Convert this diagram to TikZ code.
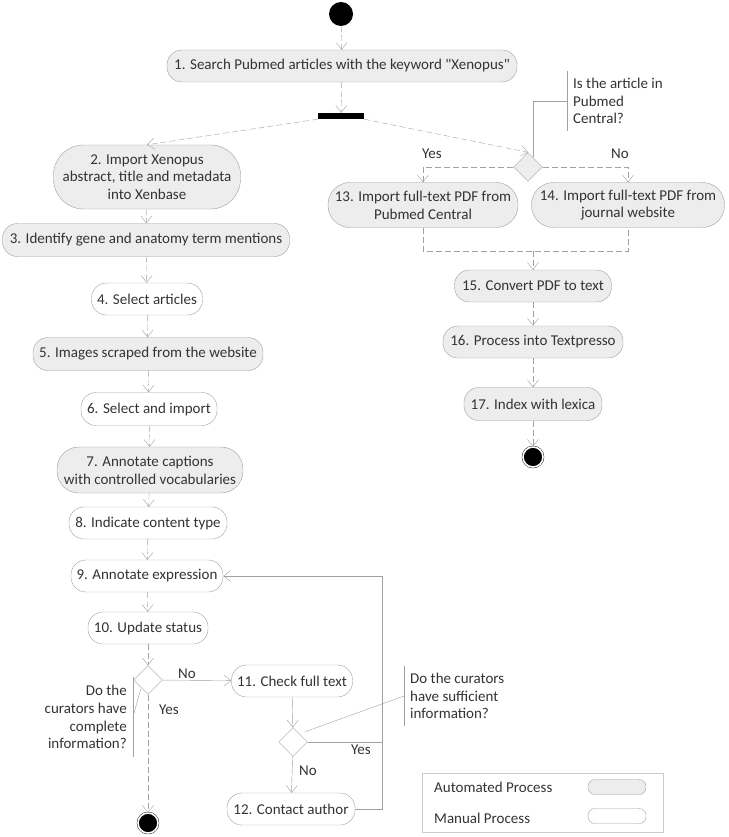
\documentclass[tikz,border=0pt]{standalone}
\usepackage{fontspec}
\newfontfamily\diagfont{Carlito}
\usetikzlibrary{arrows.meta,shapes.geometric}
\definecolor{autofill}{HTML}{EDEDED}
\definecolor{edgegray}{HTML}{A0A0A0}
\definecolor{inkgray}{HTML}{333333}
\tikzset{
  every node/.style={font=\diagfont\fontsize{15}{17.8}\selectfont},
  proc/.style={draw=edgegray, rounded corners=15pt, align=center, inner sep=0pt, minimum height=32pt, text=inkgray},
  autoproc/.style={proc, fill=autofill},
  manproc/.style={proc, fill=white},
  decision/.style={diamond, draw=edgegray, aspect=1, inner sep=0pt, minimum size=29pt},
  flow/.style={draw=edgegray, dash pattern=on 6pt off 3pt, -{Straight Barb[length=7pt,width=11pt]}},
  link/.style={draw=edgegray},
  solidflow/.style={link, -{Straight Barb[length=7pt,width=11pt]}},
  note/.style={align=left, inner sep=0pt, text=inkgray},
  guard/.style={inner sep=1pt, text=inkgray},
  initial/.style={circle, fill=black, minimum size=24pt, inner sep=0pt},
  final/.style={circle, draw=black, fill=black, double=white, double distance=1.6pt, minimum size=20pt, inner sep=0pt},
}
\begin{document}
\begin{tikzpicture}[x=1pt, y=-1pt]
\useasboundingbox (0,0) rectangle (728,837);
% left column
\node[initial] (start) at (341,14) {};
\node[autoproc, minimum width=350pt] (n1) at (342,66) {1. Search Pubmed articles with the keyword "Xenopus"};
\node[fill=black, minimum width=46pt, minimum height=6pt, inner sep=0pt] (fork) at (341,116) {};
\node[autoproc, minimum width=187pt, minimum height=64pt, rounded corners=30pt] (n2) at (147,177) {2. Import Xenopus\\abstract, title and metadata\\into Xenbase};
\node[autoproc, minimum width=287pt, minimum height=33pt] (n3) at (146,240) {3. Identify gene and anatomy term mentions};
\node[manproc, minimum width=111pt] (n4) at (147,299) {4. Select articles};
\node[autoproc, minimum width=230pt, minimum height=33pt] (n5) at (148,354) {5. Images scraped from the website};
\node[manproc, minimum width=136pt, minimum height=33pt] (n6) at (149,409) {6. Select and import};
\node[autoproc, minimum width=186pt, minimum height=46pt, rounded corners=22pt] (n7) at (150,470) {7. Annotate captions\\with controlled vocabularies};
\node[manproc, minimum width=158pt] (n8) at (148,523) {8. Indicate content type};
\node[manproc, minimum width=152pt] (n9) at (147,576) {9. Annotate expression};
\node[manproc, minimum width=120pt] (n10) at (148,628) {10. Update status};
\node[decision, fill=white] (dB) at (148,680) {};
\node[final] (endA) at (148,823) {};
\node[manproc, minimum width=121pt] (n11) at (292,681) {11. Check full text};
\node[decision, fill=white] (dC) at (293,742) {};
\node[manproc, minimum width=128pt] (n12) at (291,809) {12. Contact author};
% right column
\node[decision, fill=autofill] (dA) at (528,167) {};
\node[autoproc, minimum width=190pt, minimum height=45pt, rounded corners=22pt] (n13) at (423,205) {13. Import full-text PDF from\\Pubmed Central};
\node[autoproc, minimum width=193pt, minimum height=45pt, rounded corners=22pt] (n14) at (628,205) {14. Import full-text PDF from\\journal website};
\node[autoproc, minimum width=157pt] (n15) at (533,286) {15. Convert PDF to text};
\node[autoproc, minimum width=180pt] (n16) at (533,342) {16. Process into Textpresso};
\node[autoproc, minimum width=138pt, minimum height=33pt] (n17) at (533,404) {17. Index with lexica};
\node[final] (endB) at (533,457) {};
% notes
\node[note, anchor=west] (qA) at (573,101) {Is the article in\\Pubmed\\Central?};
\node[note, align=right, anchor=east] (qB) at (127,717) {Do the\\curators have\\complete\\information?};
\node[note, anchor=west] (qC) at (410,696) {Do the curators\\have sufficient\\information?};
\draw[link] ([xshift=-6pt,yshift=7pt]qA.north west) -- ([xshift=-6pt,yshift=-7pt]qA.south west);
\draw[link] ([xshift=-6pt]qA.west) -| ([xshift=5pt,yshift=-5pt]dA.north);
\draw[link] ([xshift=6pt,yshift=8pt]qB.north east) -- ([xshift=6pt,yshift=-8pt]qB.south east);
\draw[link] ([xshift=6pt]qB.east) -- ([yshift=-2pt]dB.south west);
\draw[link] ([xshift=-6pt,yshift=7pt]qC.north west) -- ([xshift=-6pt,yshift=-7pt]qC.south west);
\draw[link] ([xshift=-6pt]qC.west) -- ([xshift=5pt,yshift=3pt]dC.north east);
% guards
\node[guard] (gAy) at (432,154) {Yes};
\node[guard] (gAn) at (620,154) {No};
\node[guard] (gBn) at (187,674) {No};
\node[guard] (gBy) at (169,710) {Yes};
\node[guard] (gCn) at (308,771) {No};
\node[guard] (gCy) at (361,750) {Yes};
% flows
\draw[flow] (start) -- (n1);
\draw[flow] (n1) -- (fork);
\draw[flow] (fork.south west) -- (n2.north);
\draw[flow] (fork.south east) -- (dA.north);
\draw[flow] (n2) -- (n3);
\draw[flow] (n3) -- (n4);
\draw[flow] (n4) -- (n5);
\draw[flow] (n5) -- (n6);
\draw[flow] (n6) -- (n7);
\draw[flow] (n7) -- (n8);
\draw[flow] (n8) -- (n9);
\draw[flow] (n9) -- (n10);
\draw[flow] (n10) -- (dB);
\draw[flow] (dB) -- (endA);
\draw[solidflow] (dB) -- (n11);
\draw[solidflow] (n11) -- (dC);
\draw[solidflow] (dC) -- (n12);
\coordinate (loopR) at (382,742);
\draw[link] (dC.east) -- (loopR);
\draw[link] (n12.east) -| (loopR);
\draw[solidflow] (loopR) |- (n9.east);
\draw[flow] (dA.west) -| (n13.north);
\draw[flow] (dA.east) -| (n14.north);
\coordinate (merge) at (533,251);
\draw[flow, -] (n13.south) |- (merge) -| (n14.south);
\draw[flow] (merge) -- (n15);
\draw[flow] (n15) -- (n16);
\draw[flow] (n16) -- (n17);
\draw[flow] (n17) -- (endB);
% legend
\node[draw=gray!40, minimum width=241pt, minimum height=59pt, inner sep=0pt] (legend) at (542.5,802.5) {};
\node[note, anchor=west] (lgA) at (434,787) {Automated Process};
\node[note, anchor=west] (lgM) at (434,818) {Manual Process};
\node[autoproc, minimum width=58pt, minimum height=15pt, rounded corners=7pt] (pillA) at (617,787) {};
\node[manproc, minimum width=58pt, minimum height=15pt, rounded corners=7pt] (pillM) at (617,816) {};
\end{tikzpicture}
\end{document}
